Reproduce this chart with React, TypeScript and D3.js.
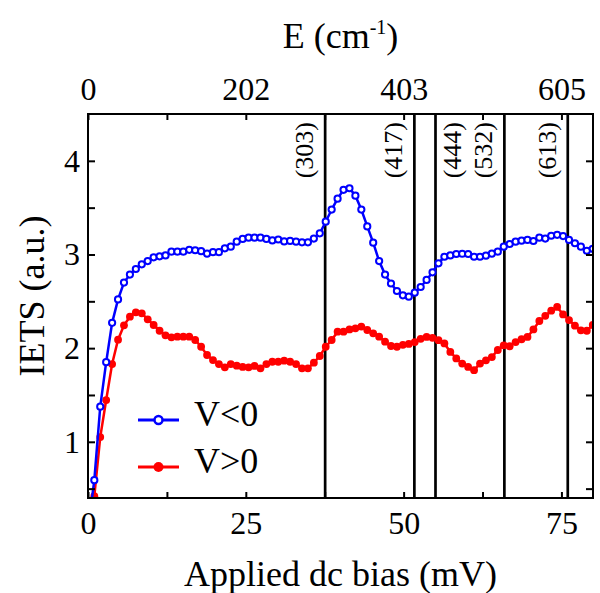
import React, { useEffect, useRef } from "react";
import * as d3 from "d3";

// bias points (mV), shared by both polarities
const biasMv = [
  0.06, 1.0, 1.94, 2.88, 3.82, 4.76, 5.7, 6.64, 7.58, 8.52, 9.46, 10.4, 11.34, 12.28, 13.22,
  14.16, 15.1, 16.04, 16.98, 17.92, 18.86, 19.8, 20.74, 21.68, 22.62, 23.56, 24.5, 25.44,
  26.38, 27.32, 28.26, 29.2, 30.14, 31.08, 32.02, 32.96, 33.9, 34.84, 35.78, 36.72, 37.66,
  38.6, 39.54, 40.48, 41.42, 42.36, 43.3, 44.24, 45.18, 46.12, 47.06, 48.0, 48.94, 49.88,
  50.82, 51.76, 52.7, 53.64, 54.58, 55.52, 56.46, 57.4, 58.34, 59.28, 60.22, 61.16, 62.1,
  63.04, 63.98, 64.92, 65.86, 66.8, 67.74, 68.68, 69.62, 70.56, 71.5, 72.44, 73.38, 74.32,
  75.26, 76.2, 77.14, 78.08, 79.02, 79.96,
];

// V<0 (blue, open circles)
const ietsNeg = [
  0.1, 0.59, 1.375, 1.85, 2.27, 2.52, 2.7, 2.785, 2.845, 2.895, 2.93, 2.97, 2.98, 2.99, 3.03,
  3.03, 3.03, 3.05, 3.045, 3.035, 3.01, 3.025, 3.025, 3.066, 3.083, 3.137, 3.166, 3.18, 3.18,
  3.18, 3.166, 3.15, 3.16, 3.14, 3.145, 3.137, 3.13, 3.13, 3.17, 3.226, 3.35, 3.48, 3.596,
  3.69, 3.707, 3.628, 3.48, 3.3, 3.126, 2.93, 2.785, 2.69, 2.61, 2.564, 2.55, 2.592, 2.653,
  2.728, 2.81, 2.906, 2.976, 2.99, 3.005, 3.008, 3.005, 2.976, 2.976, 2.987, 3.01, 3.03, 3.083,
  3.112, 3.137, 3.147, 3.155, 3.144, 3.18, 3.17, 3.2, 3.21, 3.197, 3.155, 3.12, 3.083, 3.04,
  3.06,
];

// V>0 (red, filled circles)
const ietsPos = [
  -0.2, 0.42, 1.05, 1.446, 1.83, 2.09, 2.244, 2.336, 2.383, 2.372, 2.308, 2.247, 2.186, 2.137,
  2.116, 2.122, 2.122, 2.122, 2.087, 2.015, 1.927, 1.873, 1.83, 1.795, 1.83, 1.813, 1.8, 1.795,
  1.81, 1.785, 1.83, 1.855, 1.855, 1.866, 1.855, 1.83, 1.785, 1.785, 1.845, 1.916, 2.015, 2.087,
  2.176, 2.176, 2.2, 2.212, 2.23, 2.194, 2.158, 2.122, 2.069, 2.023, 2.015, 2.035, 2.045, 2.065,
  2.1, 2.12, 2.11, 2.085, 2.05, 1.96, 1.89, 1.835, 1.8, 1.765, 1.835, 1.87, 1.905, 1.98, 2.03,
  2.02, 2.065, 2.095, 2.12, 2.2, 2.29, 2.345, 2.4, 2.44, 2.36, 2.3, 2.24, 2.19, 2.186, 2.247,
];

// vibrational modes (cm-1) marked by vertical lines
const modesCm = [303, 417, 444, 532, 613];
const modeLabelSide = ["left", "left", "right", "left", "left"];

const biasTicks = [0, 12.5, 25, 37.5, 50, 62.5, 75];
const biasLabels = [0, 25, 50, 75];
const energyLabels = ["0", "202", "403", "605"];
const ietsTicks = [0.5, 1, 1.5, 2, 2.5, 3, 3.5, 4];
const ietsLabels = [1, 2, 3, 4];

const CM_PER_MEV = 8.0655;
const FONT = "'Liberation Serif', 'Times New Roman', serif";

export default function App() {
  const svgRef = useRef<SVGSVGElement>(null);

  useEffect(() => {
    const width = 600;
    const height = 593;
    const plot = { left: 88, right: 593, top: 114, bottom: 498 };

    const svg = d3.select(svgRef.current);
    svg.selectAll("*").remove();
    svg.attr("width", width).attr("height", height);

    svg.append("rect").attr("width", width).attr("height", height).attr("fill", "#fff");

    const x = d3.scaleLinear().domain([0, 80]).range([plot.left, plot.right]);
    const y = d3.scaleLinear().domain([0.4, 4.5]).range([plot.bottom, plot.top]);

    svg.append("clipPath")
      .attr("id", "plot-clip")
      .append("rect")
      .attr("x", plot.left)
      .attr("y", plot.top)
      .attr("width", plot.right - plot.left)
      .attr("height", plot.bottom - plot.top);

    // mode lines + labels
    const modes = svg.append("g");
    modesCm.forEach((e, i) => {
      const px = x(e / CM_PER_MEV);
      modes.append("line")
        .attr("x1", px).attr("x2", px)
        .attr("y1", plot.top).attr("y2", plot.bottom)
        .attr("stroke", "#000")
        .attr("stroke-width", 2.7);
      const bx = modeLabelSide[i] === "left" ? px - 12 : px + 26;
      modes.append("text")
        .attr("transform", `translate(${bx}, ${plot.top + 8}) rotate(-90)`)
        .attr("text-anchor", "end")
        .attr("font-family", FONT)
        .attr("font-size", 26)
        .text(`(${e})`);
    });

    const dataG = svg.append("g").attr("clip-path", "url(#plot-clip)");
    const line = d3.line<number>()
      .x((_, i) => x(biasMv[i]))
      .y(d => y(d));

    dataG.append("path")
      .attr("d", line(ietsPos))
      .attr("fill", "none")
      .attr("stroke", "#ff0000")
      .attr("stroke-width", 2.5);
    dataG.selectAll(".pos")
      .data(ietsPos)
      .enter()
      .append("circle")
      .attr("cx", (_, i) => x(biasMv[i]))
      .attr("cy", d => y(d))
      .attr("r", 3.9)
      .attr("fill", "#ff0000");

    dataG.append("path")
      .attr("d", line(ietsNeg))
      .attr("fill", "none")
      .attr("stroke", "#0000ff")
      .attr("stroke-width", 2.5);
    dataG.selectAll(".neg")
      .data(ietsNeg)
      .enter()
      .append("circle")
      .attr("cx", (_, i) => x(biasMv[i]))
      .attr("cy", d => y(d))
      .attr("r", 3.1)
      .attr("fill", "#fff")
      .attr("stroke", "#0000ff")
      .attr("stroke-width", 2);

    // axes
    const styleAxis = (g: any) => {
      g.select(".domain").remove();
      g.selectAll("line").attr("stroke", "#000").attr("stroke-width", 2);
      g.selectAll("text").attr("font-family", FONT).attr("font-size", 32).attr("fill", "#000");
    };

    svg.append("g")
      .attr("transform", `translate(0, ${plot.bottom})`)
      .call(d3.axisBottom(x).tickValues(biasTicks).tickSizeInner(-6).tickSizeOuter(0).tickPadding(13)
        .tickFormat(d => (biasLabels.includes(+d) ? String(d) : "")))
      .call(styleAxis);

    svg.append("g")
      .attr("transform", `translate(0, ${plot.top})`)
      .call(d3.axisTop(x).tickValues(biasTicks).tickSizeInner(-6).tickSizeOuter(0).tickPadding(14)
        .tickFormat(d => {
          const k = biasLabels.indexOf(+d);
          return k >= 0 ? energyLabels[k] : "";
        }))
      .call(styleAxis);

    svg.append("g")
      .attr("transform", `translate(${plot.left}, 0)`)
      .call(d3.axisLeft(y).tickValues(ietsTicks).tickSizeInner(-7).tickSizeOuter(0).tickPadding(8)
        .tickFormat(d => (ietsLabels.includes(+d) ? String(d) : "")))
      .call(styleAxis);

    svg.append("g")
      .attr("transform", `translate(${plot.right}, 0)`)
      .call(d3.axisRight(y).tickValues(ietsTicks).tickSizeInner(-7).tickSizeOuter(0)
        .tickFormat(() => ""))
      .call(styleAxis);

    // frame
    svg.append("rect")
      .attr("x", plot.left)
      .attr("y", plot.top)
      .attr("width", plot.right - plot.left)
      .attr("height", plot.bottom - plot.top)
      .attr("fill", "none")
      .attr("stroke", "#000")
      .attr("stroke-width", 2);

    // titles
    const cx = (plot.left + plot.right) / 2;
    svg.append("text")
      .attr("x", cx)
      .attr("y", 586)
      .attr("text-anchor", "middle")
      .attr("font-family", FONT)
      .attr("font-size", 36)
      .text("Applied dc bias (mV)");

    const top = svg.append("text")
      .attr("x", cx)
      .attr("y", 48)
      .attr("text-anchor", "middle")
      .attr("font-family", FONT)
      .attr("font-size", 36);
    top.append("tspan").text("E (cm");
    top.append("tspan").attr("font-size", 20).attr("dy", -14).text("-1");
    top.append("tspan").attr("dy", 14).text(")");

    svg.append("text")
      .attr("transform", `translate(44, 296) rotate(-90)`)
      .attr("text-anchor", "middle")
      .attr("font-family", FONT)
      .attr("font-size", 36)
      .text("IETS (a.u.)");

    // legend
    const legend = [
      { label: "V<0", color: "#0000ff", open: true, y: 420 },
      { label: "V>0", color: "#ff0000", open: false, y: 467 },
    ];
    legend.forEach(l => {
      svg.append("line")
        .attr("x1", 138).attr("x2", 179)
        .attr("y1", l.y).attr("y2", l.y)
        .attr("stroke", l.color)
        .attr("stroke-width", 3);
      svg.append("circle")
        .attr("cx", 158.5).attr("cy", l.y)
        .attr("r", l.open ? 4 : 5)
        .attr("fill", l.open ? "#fff" : l.color)
        .attr("stroke", l.open ? l.color : "none")
        .attr("stroke-width", 2.5);
      svg.append("text")
        .attr("x", 194)
        .attr("y", l.y + 6)
        .attr("font-family", FONT)
        .attr("font-size", 36)
        .text(l.label);
    });
  }, []);

  return (
    <div style={{ position: "absolute", left: 0, top: 0 }}>
      <svg ref={svgRef} style={{ display: "block" }}></svg>
    </div>
  );
}
